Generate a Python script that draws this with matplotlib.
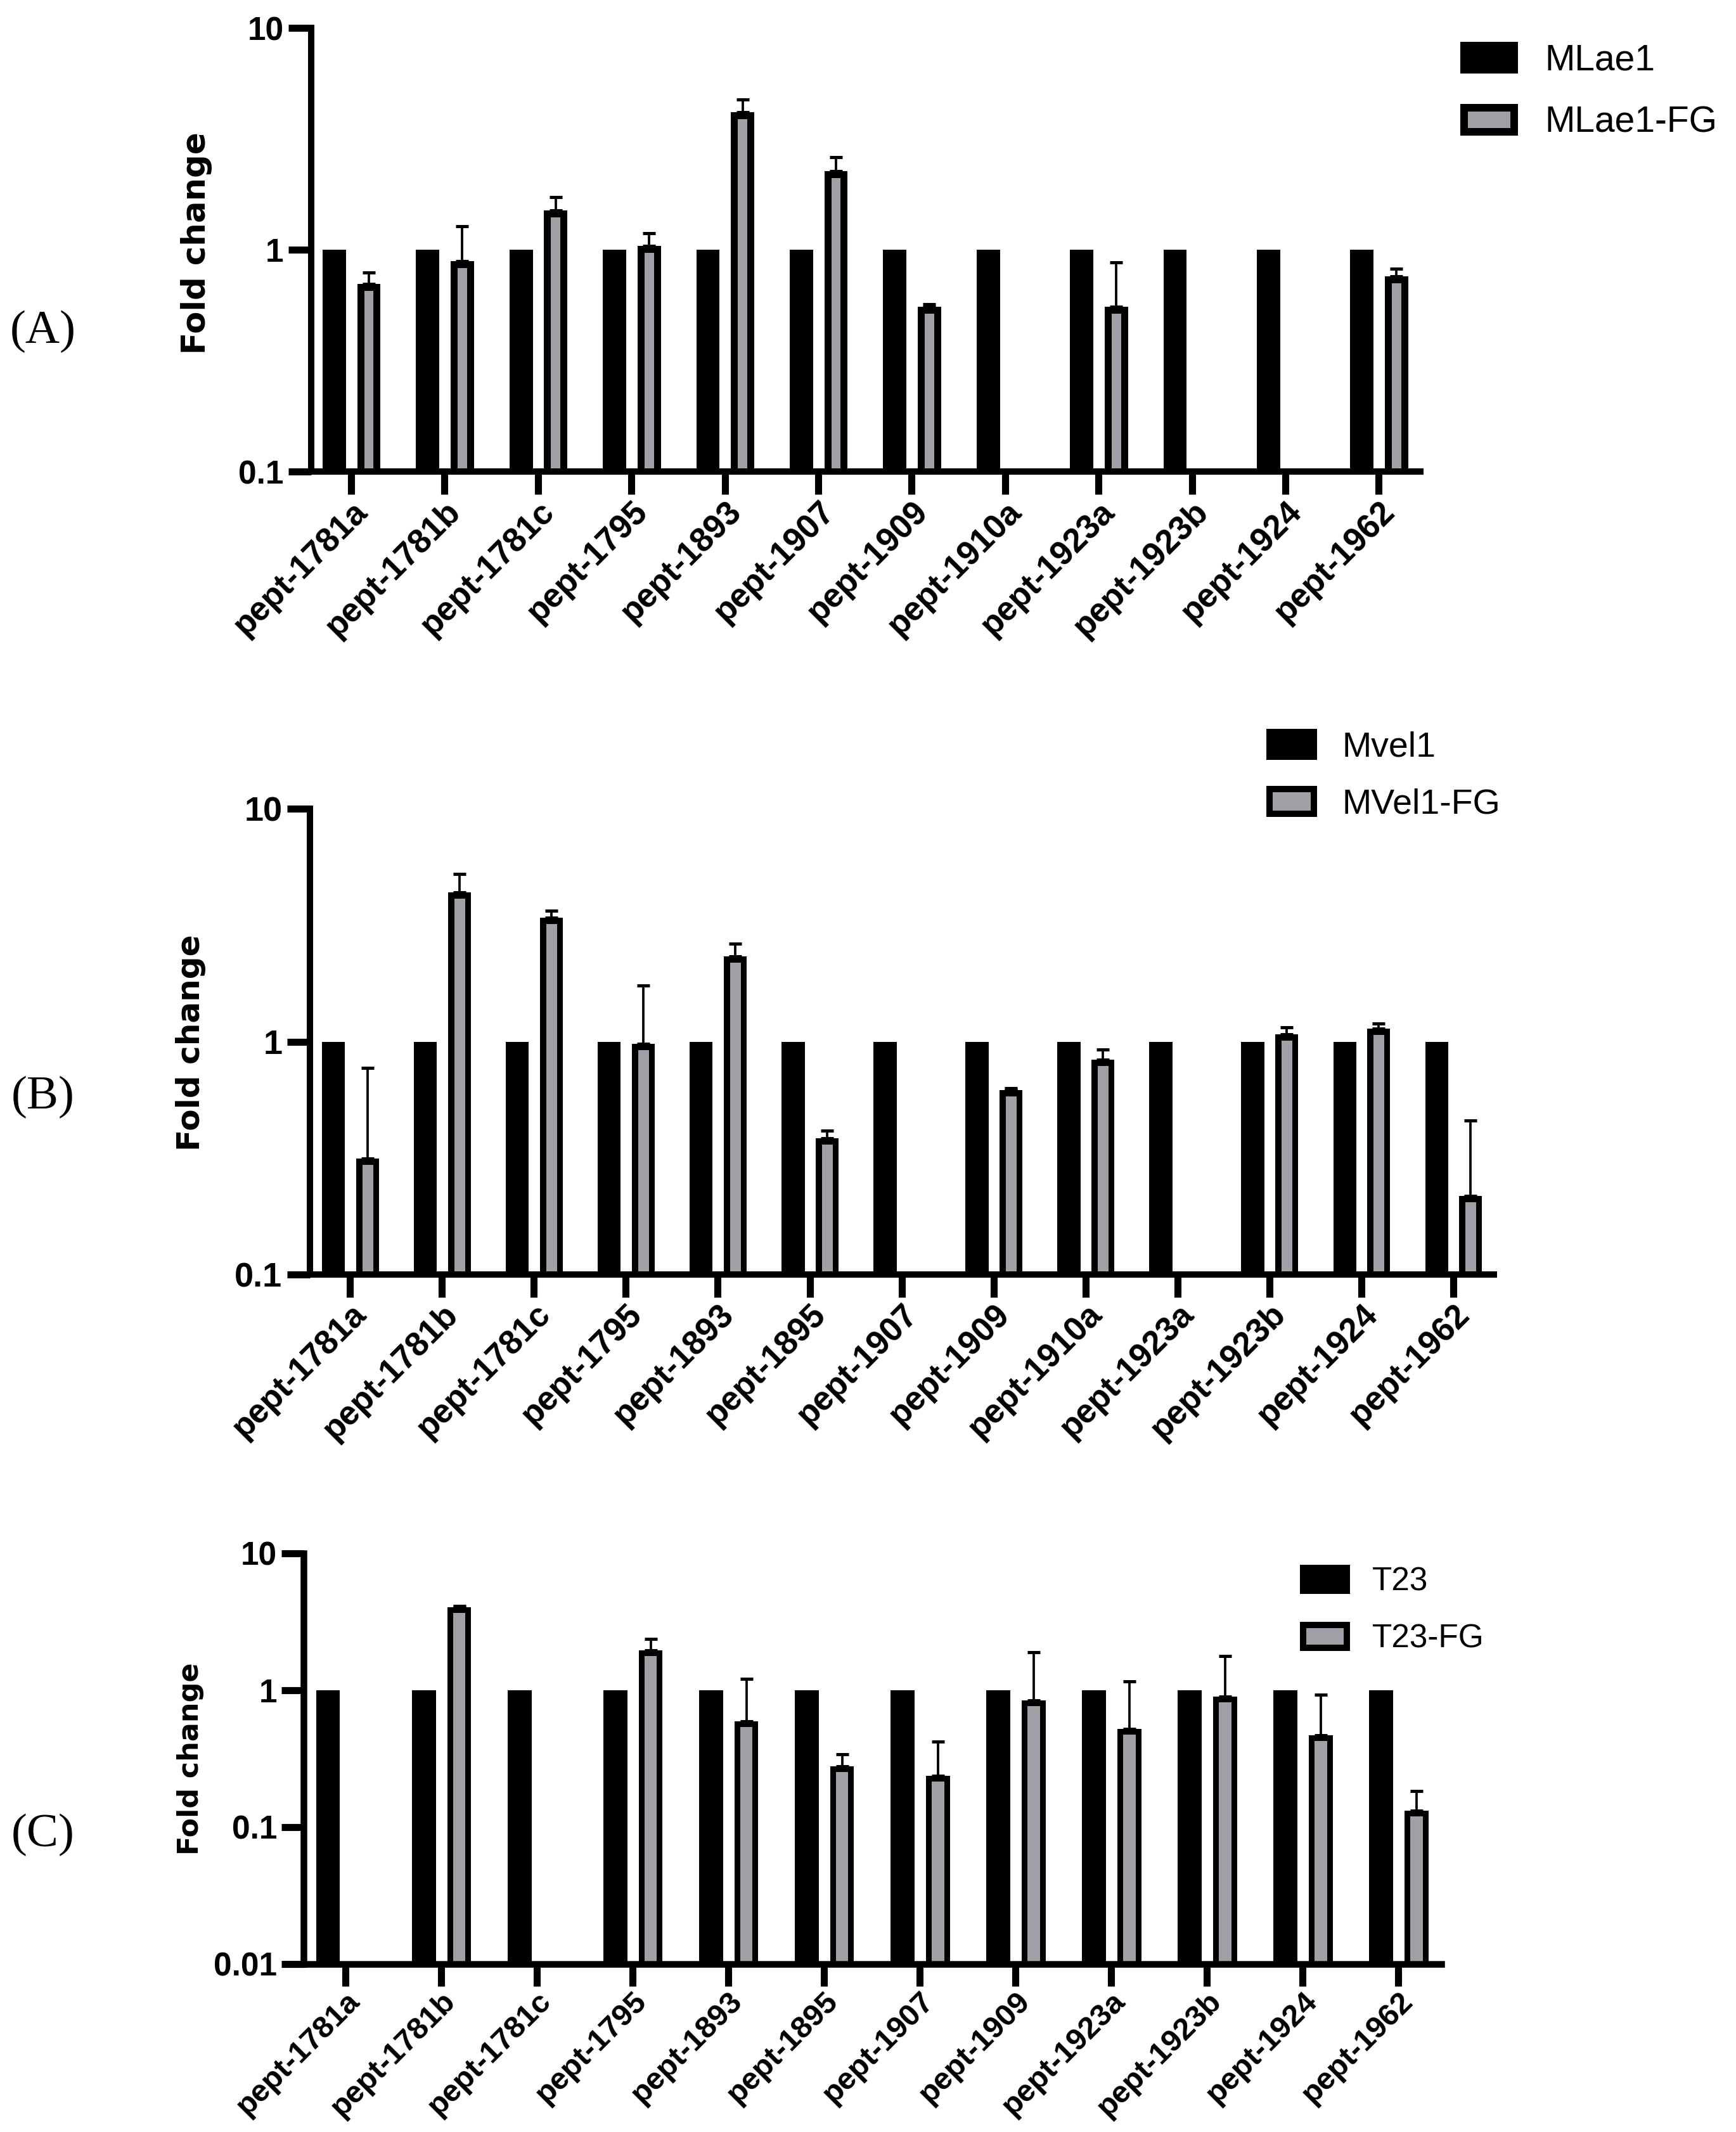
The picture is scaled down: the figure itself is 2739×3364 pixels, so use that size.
import numpy as np
import matplotlib
matplotlib.use('Agg')
import matplotlib.pyplot as plt
from matplotlib.patches import Patch
from matplotlib.ticker import NullLocator, FixedLocator, FixedFormatter

# ---------------- data ----------------
cats_a = ['pept-1781a', 'pept-1781b', 'pept-1781c', 'pept-1795', 'pept-1893', 'pept-1907',
          'pept-1909', 'pept-1910a', 'pept-1923a', 'pept-1923b', 'pept-1924', 'pept-1962']
ctrl_a = [1, 1, 1, 1, 1, 1, 1, 1, 1, 1, 1, 1]
fg_a = [0.70, 0.89, 1.50, 1.04, 4.18, 2.26, 0.553, np.nan, 0.553, np.nan, np.nan, 0.758]
err_a = [0.09, 0.39, 0.23, 0.15, 0.58, 0.35, 0.016, np.nan, 0.325, np.nan, np.nan, 0.066]
legend_a = ['MLae1', 'MLae1-FG']

cats_b = ['pept-1781a', 'pept-1781b', 'pept-1781c', 'pept-1795', 'pept-1893', 'pept-1895',
          'pept-1907', 'pept-1909', 'pept-1910a', 'pept-1923a', 'pept-1923b', 'pept-1924',
          'pept-1962']
ctrl_b = [1, 1, 1, 1, 1, 1, 1, 1, 1, 1, 1, 1, 1]
fg_b = [0.315, 4.37, 3.40, 0.98, 2.33, 0.385, np.nan, 0.62, 0.836, np.nan, 1.075, 1.14, 0.218]
err_b = [0.455, 0.88, 0.26, 0.76, 0.31, 0.031, np.nan, 0.01, 0.092, np.nan, 0.081, 0.059, 0.242]
legend_b = ['Mvel1', 'MVel1-FG']

cats_c = ['pept-1781a', 'pept-1781b', 'pept-1781c', 'pept-1795', 'pept-1893', 'pept-1895',
          'pept-1907', 'pept-1909', 'pept-1923a', 'pept-1923b', 'pept-1924', 'pept-1962']
ctrl_c = [1, 1, 1, 1, 1, 1, 1, 1, 1, 1, 1, 1]
fg_c = [np.nan, 4.04, np.nan, 1.95, 0.59, 0.277, 0.237, 0.843, 0.52, 0.894, 0.469, 0.131]
err_c = [np.nan, 0.08, np.nan, 0.42, 0.62, 0.063, 0.182, 1.037, 0.64, 0.876, 0.46, 0.052]
legend_c = ['T23', 'T23-FG']

yticks_ab = [0.1, 1, 10]
yticklabels_ab = ['0.1', '1', '10']
yticks_c = [0.01, 0.1, 1, 10]
yticklabels_c = ['0.01', '0.1', '1', '10']

# ---------------- style ----------------
DPI = 100
W, H = 2739, 3364
GRAY = '#a1a0a6'
SANS = ['Liberation Sans', 'DejaVu Sans']

fig = plt.figure(figsize=(W / DPI, H / DPI), dpi=DPI)
fig.patch.set_facecolor('white')


def px_rect(l, r, t, b):
    return [l / W, 1 - b / H, (r - l) / W, (b - t) / H]


def panel(rect, cats, ctrl, fg, err, yticks, yticklabels, xlim, xtick_fs, ytick_fs,
          edge_px, spine_px=10, tick_len=26):
    ax = fig.add_axes(rect)
    ax.set_yscale('log')
    ymin, ymax = yticks[0], yticks[-1]
    base = ymin / 4.0
    x = np.arange(len(cats))
    ctrl = np.asarray(ctrl, float)
    fg = np.asarray(fg, float)
    err = np.asarray(err, float)
    ax.bar(x - 0.18, ctrl - base, bottom=base, width=0.25, color='black',
           linewidth=0, zorder=2)
    m = ~np.isnan(fg)
    bars = ax.bar(x[m] + 0.19, fg[m] - base, bottom=base, width=0.25, facecolor=GRAY,
                  edgecolor='black', linewidth=2 * edge_px * 72 / DPI, zorder=2)
    for b in bars:
        b.set_clip_path(b.get_path(), b.get_transform())
    ax.errorbar(x[m] + 0.19, fg[m], yerr=[np.zeros(m.sum()), err[m]], fmt='none',
                ecolor='black', elinewidth=2.7, capsize=7.5, capthick=3.6, zorder=3)
    ax.set_ylim(ymin, ymax)
    ax.set_xlim(*xlim)
    for s in ['top', 'right']:
        ax.spines[s].set_visible(False)
    for s in ['left', 'bottom']:
        ax.spines[s].set_linewidth(spine_px * 72 / DPI)
        ax.spines[s].set_zorder(4)
    ax.yaxis.set_major_locator(FixedLocator(yticks))
    ax.yaxis.set_major_formatter(FixedFormatter(yticklabels))
    ax.yaxis.set_minor_locator(NullLocator())
    ax.set_xticks(x)
    ax.set_xticklabels(cats, rotation=45, ha='right', va='top', rotation_mode='anchor',
                       fontsize=xtick_fs, fontweight='bold', family=SANS)
    for lab in ax.get_yticklabels():
        lab.set_fontsize(ytick_fs)
        lab.set_fontweight('bold')
        lab.set_family(SANS)
    ax.tick_params(axis='both', which='major', direction='out', length=tick_len,
                   width=8, color='black')
    ax.tick_params(axis='x', pad=1)
    ax.tick_params(axis='y', pad=5)
    ax.set_facecolor('none')
    return ax


def place_legend(labels, fs, hx, hy1, pitch, hw, hh, edge, text_x):
    fs_px = fs * DPI / 72
    lw = edge * 72 / DPI
    handles = [Patch(facecolor='black', edgecolor='black', linewidth=lw),
               Patch(facecolor=GRAY, edgecolor='black', linewidth=lw)]
    hl = (hw - edge) / fs_px
    hhh = (hh - edge) / fs_px
    state = {'ls': pitch / fs_px - 1.15, 'tp': (text_x - (hx + hw - edge / 2)) / fs_px}
    anchor = [(hx + edge / 2) / W, 1 - (hy1 - hh / 2 - 10) / H]

    def build():
        return fig.legend(handles, labels, loc='upper left', bbox_to_anchor=tuple(anchor),
                          bbox_transform=fig.transFigure, frameon=False,
                          prop={'family': SANS, 'size': fs},
                          handlelength=hl, handleheight=hhh, handletextpad=state['tp'],
                          labelspacing=state['ls'], borderpad=0, borderaxespad=0)

    leg = build()
    r = fig.canvas.get_renderer()
    for _ in range(2):
        fig.canvas.draw()
        b0 = leg.legend_handles[0].get_window_extent(r)
        b1 = leg.legend_handles[1].get_window_extent(r)
        t0 = leg.get_texts()[0].get_window_extent(r)
        mp = b0.y0 - b1.y0
        state['ls'] += (pitch - mp) / fs_px
        state['tp'] += (text_x - t0.x0) / fs_px
        leg.remove()
        leg = build()
    fig.canvas.draw()
    b0 = leg.legend_handles[0].get_window_extent(r)
    dx = (hx + hw / 2) - (b0.x0 + b0.x1) / 2
    dy = (H - hy1) - (b0.y0 + b0.y1) / 2
    anchor[0] += dx / W
    anchor[1] += dy / H
    leg.set_bbox_to_anchor(tuple(anchor), transform=fig.transFigure)
    return leg


# ---------------- panels ----------------
ax_a = panel(px_rect(490.6, 2241, 44, 744.3), cats_a, ctrl_a, fg_a, err_a,
             yticks_ab, yticklabels_ab, (-0.43, 11.445), 38, 37, 11)
ax_b = panel(px_rect(488.5, 2356.6, 1276.3, 2011), cats_b, ctrl_b, fg_b, err_b,
             yticks_ab, yticklabels_ab, (-0.44, 12.44), 38, 39, 9.5)
ax_c = panel(px_rect(478.8, 2274, 2450.5, 3098.8), cats_c, ctrl_c, fg_c, err_c,
             yticks_c, yticklabels_c, (-0.437, 11.45), 35, 37, 9, spine_px=10.5, tick_len=25)

# y labels
for (cx, cy, fs) in [(310, 384, 37), (301, 1645, 36), (301, 2775, 32)]:
    fig.text(cx / W, 1 - cy / H, 'Fold change', rotation=90, ha='center', va='center',
             fontsize=fs, fontweight='bold', family=['DejaVu Sans'])

# panel letters
for (lab, cy) in [('(A)', 523), ('(B)', 1731), ('(C)', 2895)]:
    fig.text(68 / W, 1 - cy / H, lab, ha='center', va='center', fontsize=54,
             family=['Liberation Serif', 'DejaVu Serif'])

# legends
place_legend(legend_a, 41, 2304, 91, 98, 91, 50, 12, 2437)
place_legend(legend_b, 40, 1998, 1174.5, 90, 80, 49, 10, 2117)
place_legend(legend_c, 37, 2051, 2492, 90, 79, 47, 10, 2165)

fig.savefig('out.png', dpi=DPI, facecolor='white')
